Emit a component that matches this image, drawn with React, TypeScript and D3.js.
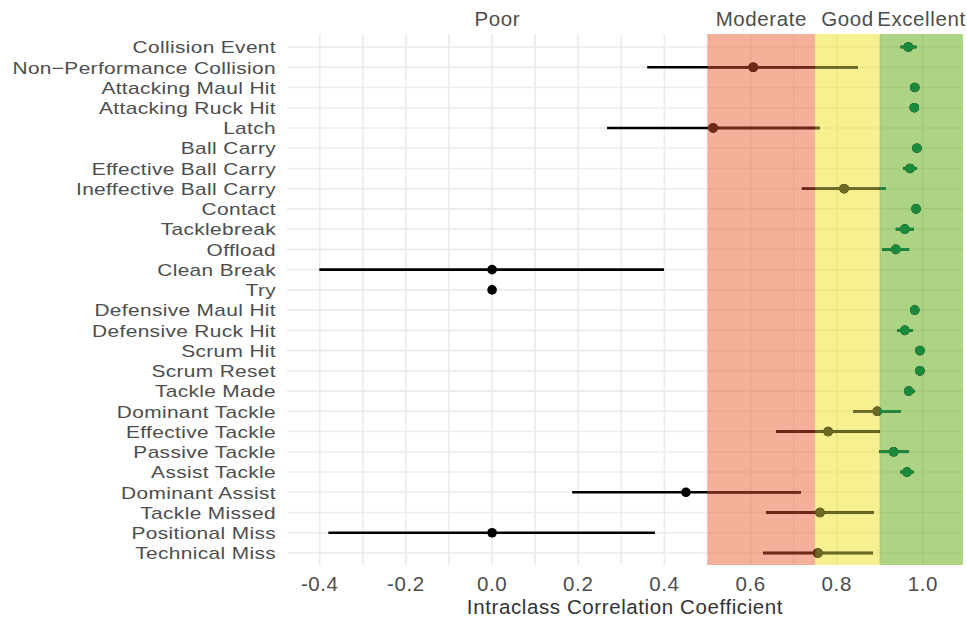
import React, { useRef, useEffect } from "react";
import * as d3 from "d3";

const categories = [
  "Collision Event",
  "Non\u2212Performance Collision",
  "Attacking Maul Hit",
  "Attacking Ruck Hit",
  "Latch",
  "Ball Carry",
  "Effective Ball Carry",
  "Ineffective Ball Carry",
  "Contact",
  "Tacklebreak",
  "Offload",
  "Clean Break",
  "Try",
  "Defensive Maul Hit",
  "Defensive Ruck Hit",
  "Scrum Hit",
  "Scrum Reset",
  "Tackle Made",
  "Dominant Tackle",
  "Effective Tackle",
  "Passive Tackle",
  "Assist Tackle",
  "Dominant Assist",
  "Tackle Missed",
  "Positional Miss",
  "Technical Miss",
];

const icc = [
  0.966, 0.606, 0.981, 0.98, 0.513, 0.986, 0.97, 0.817, 0.984, 0.958, 0.937, 0.0, 0.0,
  0.981, 0.958, 0.993, 0.993, 0.967, 0.894, 0.78, 0.932, 0.963, 0.45, 0.761, 0.0, 0.756,
];
const lower = [
  0.948, 0.36, 0.976, 0.975, 0.267, 0.982, 0.954, 0.719, 0.979, 0.937, 0.905, -0.401, 0.0,
  0.976, 0.94, 0.99, 0.99, 0.956, 0.838, 0.659, 0.898, 0.947, 0.186, 0.636, -0.38, 0.629,
];
const upper = [
  0.985, 0.849, 0.986, 0.985, 0.761, 0.99, 0.986, 0.914, 0.988, 0.979, 0.968, 0.399, 0.0,
  0.986, 0.977, 0.996, 0.996, 0.981, 0.949, 0.9, 0.967, 0.979, 0.717, 0.886, 0.378, 0.884,
];

const xTicks = [-0.4, -0.2, 0, 0.2, 0.4, 0.6, 0.8, 1.0];
const xMinor = [-0.3, -0.1, 0.1, 0.3, 0.5, 0.7, 0.9];

const bandNames = ["Poor", "Moderate", "Good", "Excellent"];
const bandStarts = [-Infinity, 0.5, 0.75, 0.9];
const bandEnds = [0.5, 0.75, 0.9, Infinity];
const bandFill = [null, "rgb(235,97,53)", "rgb(240,226,35)", "rgb(92,170,10)"];
const markColor = ["#000000", "#6e2a16", "#6c6a22", "#1b8a3c"];

const App = () => {
  const svgRef = useRef(null);

  useEffect(() => {
    const svg = d3.select(svgRef.current);
    svg.selectAll("*").remove();

    const panel = { left: 287, right: 963, top: 34, bottom: 565 };
    const font = "'Liberation Sans', Arial, sans-serif";
    const textCol = "#4d4d4d";
    const fs = 20.5;
    const ls = 0.6;

    const x = d3.scaleLinear().domain([-0.476, 1.093]).range([panel.left, panel.right]);
    const y = d3
      .scalePoint()
      .domain(categories)
      .range([panel.top + 13, panel.bottom - 12]);

    const data = categories.map((c, i) => ({ c, est: icc[i], lo: lower[i], hi: upper[i] }));

    // grid
    const grid = svg.append("g");
    grid
      .selectAll(".hgrid")
      .data(categories)
      .enter()
      .append("line")
      .attr("x1", panel.left)
      .attr("x2", panel.right)
      .attr("y1", (d) => y(d))
      .attr("y2", (d) => y(d))
      .attr("stroke", "#ebebeb")
      .attr("stroke-width", 1.6);
    grid
      .selectAll(".vgrid")
      .data([...xTicks, ...xMinor])
      .enter()
      .append("line")
      .attr("x1", (d) => x(d))
      .attr("x2", (d) => x(d))
      .attr("y1", panel.top)
      .attr("y2", panel.bottom)
      .attr("stroke", "#ebebeb")
      .attr("stroke-width", 1.6);

    const bx0 = (i) => Math.max(panel.left, isFinite(bandStarts[i]) ? x(bandStarts[i]) : panel.left);
    const bx1 = (i) => Math.min(panel.right, isFinite(bandEnds[i]) ? x(bandEnds[i]) : panel.right);

    // coloured bands
    svg
      .selectAll(".band")
      .data([1, 2, 3])
      .enter()
      .append("rect")
      .attr("x", (i) => bx0(i))
      .attr("width", (i) => bx1(i) - bx0(i))
      .attr("y", panel.top)
      .attr("height", panel.bottom - panel.top)
      .attr("fill", (i) => bandFill[i])
      .attr("fill-opacity", 0.5);

    // clip paths for tinted marks
    const defs = svg.append("defs");
    [1, 2, 3].forEach((i) => {
      defs
        .append("clipPath")
        .attr("id", `clip-band-${i}`)
        .append("rect")
        .attr("x", bx0(i))
        .attr("width", bx1(i) - bx0(i))
        .attr("y", panel.top)
        .attr("height", panel.bottom - panel.top);
    });

    const drawMarks = (g, color) => {
      g.selectAll(".ci")
        .data(data.filter((d) => d.hi > d.lo))
        .enter()
        .append("line")
        .attr("x1", (d) => x(d.lo))
        .attr("x2", (d) => x(d.hi))
        .attr("y1", (d) => y(d.c))
        .attr("y2", (d) => y(d.c))
        .attr("stroke", color)
        .attr("stroke-width", 2.6);
      g.selectAll(".pt")
        .data(data)
        .enter()
        .append("circle")
        .attr("cx", (d) => x(d.est))
        .attr("cy", (d) => y(d.c))
        .attr("r", 4.8)
        .attr("fill", color);
    };

    drawMarks(svg.append("g"), markColor[0]);
    [1, 2, 3].forEach((i) => {
      drawMarks(svg.append("g").attr("clip-path", `url(#clip-band-${i})`), markColor[i]);
    });

    // band labels
    svg
      .selectAll(".bandLabel")
      .data([0, 1, 2, 3])
      .enter()
      .append("text")
      .attr("x", (i) => (bx0(i) + bx1(i)) / 2)
      .attr("y", 26)
      .attr("text-anchor", "middle")
      .attr("font-family", font)
      .attr("font-size", fs)
      .attr("letter-spacing", ls)
      .attr("fill", textCol)
      .text((i) => bandNames[i]);

    // y axis labels: rows are tight, so a smaller font stretched sideways
    svg
      .selectAll(".ylab")
      .data(categories)
      .enter()
      .append("text")
      .attr("transform", (d) => `translate(276,${y(d)}) scale(1.2,1)`)
      .attr("dy", "0.36em")
      .attr("text-anchor", "end")
      .attr("font-family", font)
      .attr("font-size", 17.4)
      .attr("letter-spacing", 0.3)
      .attr("fill", textCol)
      .text((d) => d);

    // x axis labels (plain hyphen for negatives, as in the source)
    svg
      .selectAll(".xlab")
      .data(xTicks)
      .enter()
      .append("text")
      .attr("x", (d) => x(d))
      .attr("y", 591)
      .attr("text-anchor", "middle")
      .attr("font-family", font)
      .attr("font-size", fs)
      .attr("letter-spacing", ls)
      .attr("fill", textCol)
      .text((d) => d.toFixed(1));

    svg
      .append("text")
      .attr("x", (panel.left + panel.right) / 2)
      .attr("y", 614)
      .attr("text-anchor", "middle")
      .attr("font-family", font)
      .attr("font-size", fs)
      .attr("letter-spacing", ls)
      .attr("fill", "#333")
      .text("Intraclass Correlation Coefficient");
  }, []);

  return (
    <svg
      ref={svgRef}
      width={967}
      height={623}
      style={{ position: "absolute", left: 0, top: 0, background: "#fff" }}
    ></svg>
  );
};

export default App;
